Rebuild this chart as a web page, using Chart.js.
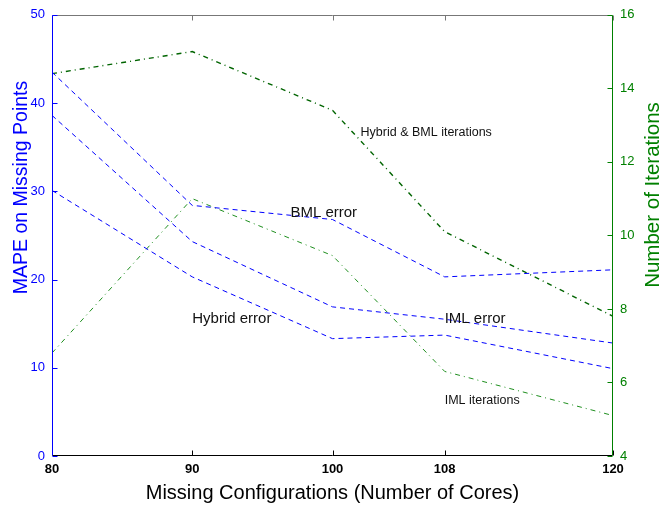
<!DOCTYPE html>
<html><head><meta charset="utf-8">
<script src="https://cdn.jsdelivr.net/npm/chart.js@4"></script>
<style>html,body{margin:0;padding:0;background:#fff}canvas{display:block}</style>
</head><body>
<canvas id="c" width="659" height="505"></canvas>
<script>
// ---- data ----
const cores = [80, 90, 100, 108, 120];
const xTickValues = [80, 90, 100, 108, 120];
const bmlError = [43.5, 28.4, 26.8, 20.3, 21.1];
const imlError = [38.6, 24.3, 16.9, 15.5, 12.8];
const hybridError = [30.1, 20.3, 13.3, 13.7, 9.9];
const hybridBmlIterations = [14.4, 15.0, 13.4, 10.1, 7.8];
const imlIterations = [6.8, 11.0, 9.45, 6.3, 5.1];
// in-plot text labels (x in cores, y in MAPE units)
const labelTexts = ['BML error', 'Hybrid error', 'IML error', 'Hybrid & BML iterations', 'IML iterations'];
const labelX = [97, 90, 108, 102, 108];
const labelY = [27.1, 15.1, 15.1, 36.3, 5.9];
const labelSizes = [15, 15, 15, 12.5, 12.5];

const xTitle = 'Missing Configurations (Number of Cores)';
const yTitle = 'MAPE on Missing Points';
const y1Title = 'Number of Iterations';

const FONT = "'Liberation Sans', Arial, Helvetica, sans-serif";
const BLUE = '#0000ff';
const GREEN = '#008000';

const pts = arr => cores.map((c, i) => ({x: c, y: arr[i]}));

const framePlugin = {
  id: 'framePlugin',
  afterDatasetsDraw(chart) {
    const {ctx, chartArea: a, scales} = chart;
    ctx.save();
    ctx.lineWidth = 1;
    const L = Math.round(a.left) + 0.5, R = Math.round(a.right) - 0.5;
    const T = Math.round(a.top) + 0.5, B = Math.round(a.bottom) - 0.5;
    const seg = (x1, y1, x2, y2, c) => { ctx.strokeStyle = c; ctx.beginPath(); ctx.moveTo(x1, y1); ctx.lineTo(x2, y2); ctx.stroke(); };
    // box
    seg(L, T, R, T, '#777777');
    seg(L, B, R, B, '#000000');
    // x ticks (inward)
    xTickValues.forEach(v => {
      const px = Math.round(scales.x.getPixelForValue(v)) + 0.5;
      seg(px, B, px, B - 5, '#000000');
      seg(px, T, px, T + 5, '#777777');
    });
    // left ticks
    scales.y.ticks.forEach(t => {
      const py = Math.round(scales.y.getPixelForValue(t.value)) + 0.5;
      seg(L, py, L + 5, py, BLUE);
    });
    // right ticks
    scales.y1.ticks.forEach(t => {
      const py = Math.round(scales.y1.getPixelForValue(t.value)) + 0.5;
      seg(R, py, R - 5, py, GREEN);
    });
    seg(L, T, L, B, BLUE);
    seg(R, T, R, B, GREEN);
    // text labels
    ctx.fillStyle = '#111111';
    ctx.textAlign = 'left';
    ctx.textBaseline = 'alphabetic';
    labelTexts.forEach((s, i) => {
      ctx.font = labelSizes[i] + 'px ' + FONT;
      ctx.fillText(s, scales.x.getPixelForValue(labelX[i]), scales.y.getPixelForValue(labelY[i]));
    });
    ctx.restore();
  },
  afterDraw(chart) {
    const {ctx, chartArea: a} = chart;
    ctx.save();
    ctx.textAlign = 'center';
    ctx.textBaseline = 'alphabetic';
    // x title
    ctx.fillStyle = '#000000';
    ctx.font = '20px ' + FONT;
    ctx.fillText(xTitle, (a.left + a.right) / 2, 499);
    // left title
    ctx.save();
    ctx.translate(27, 187.5);
    ctx.rotate(-Math.PI / 2);
    ctx.fillStyle = BLUE;
    ctx.font = '19.5px ' + FONT;
    ctx.fillText(yTitle, 0, 0);
    ctx.restore();
    // right title
    ctx.save();
    ctx.translate(659, 195);
    ctx.rotate(-Math.PI / 2);
    ctx.fillStyle = GREEN;
    ctx.font = '20.5px ' + FONT;
    ctx.fillText(y1Title, 0, 0);
    ctx.restore();
    ctx.restore();
  }
};

Chart.defaults.font.family = FONT;

new Chart(document.getElementById('c'), {
  type: 'line',
  data: {
    datasets: [
      {label: 'BML error', data: pts(bmlError), yAxisID: 'y', borderColor: BLUE, borderWidth: 1, borderDash: [5, 4]},
      {label: 'IML error', data: pts(imlError), yAxisID: 'y', borderColor: BLUE, borderWidth: 1, borderDash: [5, 4]},
      {label: 'Hybrid error', data: pts(hybridError), yAxisID: 'y', borderColor: BLUE, borderWidth: 1, borderDash: [5, 4]},
      {label: 'Hybrid & BML iterations', data: pts(hybridBmlIterations), yAxisID: 'y1', borderColor: '#006400', borderWidth: 1.4, borderDash: [5, 4, 1, 4]},
      {label: 'IML iterations', data: pts(imlIterations), yAxisID: 'y1', borderColor: '#1f8f1f', borderWidth: 1, borderDash: [5, 4, 1, 4]}
    ]
  },
  options: {
    responsive: false,
    animation: false,
    devicePixelRatio: 1,
    layout: {padding: {top: 12, left: 0, right: 0, bottom: 0}},
    elements: {point: {radius: 0}, line: {tension: 0, fill: false}},
    plugins: {legend: {display: false}, tooltip: {enabled: false}},
    scales: {
      x: {
        type: 'linear', position: 'bottom', min: 80, max: 120,
        afterBuildTicks: s => { s.ticks = xTickValues.map(v => ({value: v})); },
        afterFit: s => { s.height = 49; },
        grid: {display: false, drawTicks: false}, border: {display: false},
        ticks: {color: '#000000', font: {size: 13, weight: 'bold'}, padding: 6, maxRotation: 0, autoSkip: false}
      },
      y: {
        type: 'linear', position: 'left', min: 0, max: 50,
        afterFit: s => { s.width = 52; },
        grid: {display: false, drawTicks: false}, border: {display: false},
        ticks: {stepSize: 10, color: BLUE, font: {size: 13}, padding: 7}
      },
      y1: {
        type: 'linear', position: 'right', min: 4, max: 16,
        afterFit: s => { s.width = 46; },
        grid: {display: false, drawTicks: false}, border: {display: false},
        ticks: {stepSize: 2, color: GREEN, font: {size: 13}, padding: 7}
      }
    }
  },
  plugins: [framePlugin]
});
</script>
</body></html>
